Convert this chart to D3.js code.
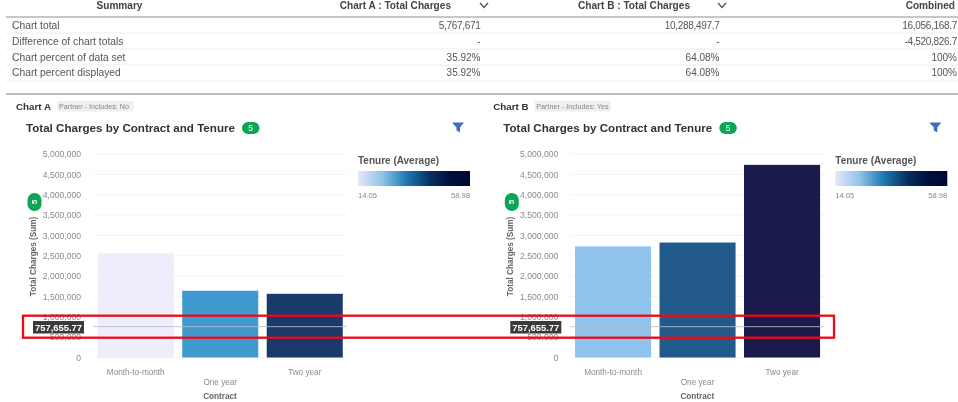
<!DOCTYPE html>
<html>
<head>
<meta charset="utf-8">
<script src="https://cdn.jsdelivr.net/npm/d3@7"></script>
<style>
  html, body { margin: 0; padding: 0; background: #fff; }
  svg { display: block; font-family: "Liberation Sans", Arial, sans-serif; filter: blur(0.35px); }
  .axis path, .axis line { display: none; }
  .axis text { fill: #8a8a8a; font-size: 8.6px; font-family: "Liberation Sans", Arial, sans-serif; }
</style>
</head>
<body>
<div id="chart"></div>
<script>
const contracts = ["Month-to-month", "One year", "Two year"];
const chargesA = [2560000, 1640000, 1565000];
const chargesB = [2730000, 2825000, 4733000];
const tenureA = [14.05, 33, 51];
const tenureB = [24, 43, 58.98];
const refValue = 757655.77;
const yTicks = [0, 500000, 1000000, 1500000, 2000000, 2500000, 3000000, 3500000, 4000000, 4500000, 5000000];

const summaryHeaders = ["Summary", "Chart A : Total Charges", "Chart B : Total Charges", "Combined"];
const summaryLabels = ["Chart total", "Difference of chart totals", "Chart percent of data set", "Chart percent displayed"];
const summaryA = ["5,767,671", "-", "35.92%", "35.92%"];
const summaryB = ["10,288,497.7", "-", "64.08%", "64.08%"];
const summaryC = ["16,056,168.7", "-4,520,826.7", "100%", "100%"];

const tenureStops = [14.05, 24, 33, 43, 51, 58.98];
const tenureColors = ["#eeedfc", "#90c4ee", "#3f9bcf", "#235a8c", "#1a3a6b", "#1a1a4c"];
const legendColors = ["#e6e6f8", "#8fc3e8", "#1f7db5", "#06305f", "#010f3d", "#000833"];

const width = 958, height = 402;
const svg = d3.select("#chart").append("svg").attr("width", width).attr("height", height);

const color = d3.scaleLinear().domain(tenureStops).range(tenureColors);
const y = d3.scaleLinear().domain([0, 5000000]).range([357.5, 154]);
const fmt = d3.format(",");

// gradient for the tenure legend
const grad = svg.append("defs").append("linearGradient").attr("id", "tenureGrad");
tenureStops.forEach((s, i) => {
  grad.append("stop")
    .attr("offset", (s - 14.05) / (58.98 - 14.05))
    .attr("stop-color", legendColors[i]);
});

// summary table
const rowY = [26, 41.7, 57.5, 73];
const sepY = [33, 49, 65, 81];
const head = svg.append("g").attr("font-weight", "bold").attr("font-size", 10.1).attr("fill", "#444");
head.append("text").attr("x", 119.5).attr("y", 9).attr("text-anchor", "middle").text(summaryHeaders[0]);
head.append("text").attr("x", 451).attr("y", 9).attr("text-anchor", "end").text(summaryHeaders[1]);
head.append("text").attr("x", 690).attr("y", 9).attr("text-anchor", "end").text(summaryHeaders[2]);
head.append("text").attr("x", 955).attr("y", 9).attr("text-anchor", "end").text(summaryHeaders[3]);

[484, 722].forEach(cx => {
  svg.append("path")
    .attr("d", `M${cx - 4},3 L${cx},7.5 L${cx + 4},3`)
    .attr("fill", "none").attr("stroke", "#555").attr("stroke-width", 1.3);
});

svg.append("line").attr("x1", 6).attr("x2", 958).attr("y1", 17).attr("y2", 17)
  .attr("stroke", "#8f8f8f").attr("stroke-width", 1);
svg.selectAll(".sep").data(sepY).enter().append("line").attr("class", "sep")
  .attr("x1", 6).attr("x2", 958).attr("y1", d => d).attr("y2", d => d)
  .attr("stroke", "#eeeeee");
svg.append("line").attr("x1", 6).attr("x2", 958).attr("y1", 94).attr("y2", 94)
  .attr("stroke", "#808080").attr("stroke-width", 1);

function tableCol(vals, x, anchor, size) {
  svg.append("g").selectAll("text").data(vals).enter().append("text")
    .attr("x", x).attr("y", (d, i) => rowY[i] + 3.3)
    .attr("text-anchor", anchor)
    .attr("font-size", size)
    .attr("letter-spacing", d => d.includes(",") ? -0.3 : 0)
    .attr("fill", "#555")
    .text(d => d);
}
tableCol(summaryLabels, 12, "start", 10.3);
tableCol(summaryA, 480.5, "end", 10);
tableCol(summaryB, 719.5, "end", 10);
tableCol(summaryC, 957, "end", 10);

function panel(off, name, pill, charges, tenure) {
  const g = svg.append("g").attr("transform", `translate(${off},0)`);

  // header row
  g.append("text").attr("x", 16).attr("y", 109.5).attr("font-weight", "bold").attr("font-size", 9.8)
    .attr("fill", "#333").text(name);
  g.append("rect").attr("x", 57.5).attr("y", 101).attr("width", 76).attr("height", 10.5).attr("fill", "#efefef");
  g.append("text").attr("x", 59).attr("y", 108.9).attr("font-size", 7.2).attr("fill", "#888").text(pill);

  g.append("text").attr("x", 26).attr("y", 132).attr("font-weight", "bold").attr("font-size", 11.6)
    .attr("fill", "#333").text("Total Charges by Contract and Tenure");
  g.append("rect").attr("x", 242).attr("y", 122).attr("width", 17.5).attr("height", 12).attr("rx", 6)
    .attr("fill", "#0aa555");
  g.append("text").attr("x", 250.7).attr("y", 131.2).attr("text-anchor", "middle").attr("font-size", 8.5)
    .attr("fill", "#fff").text("5");
  g.append("path").attr("d", "M452,122.5 H464 L460,127.5 V132.5 L456.5,130.5 V127.5 Z").attr("fill", "#3b6fc4");

  const x = d3.scaleBand().domain(contracts).range([93.5, 347]).paddingInner(0.1).paddingOuter(0.05);

  // grid
  g.append("g").selectAll("line").data(yTicks).enter().append("line")
    .attr("x1", 93).attr("x2", 347)
    .attr("y1", d => y(d)).attr("y2", d => y(d))
    .attr("stroke", "#f3f3f3");

  // bars
  const rows = contracts.map((c, i) => ({ c, v: charges[i], t: tenure[i] }));
  g.append("g").selectAll("rect").data(rows).enter().append("rect")
    .attr("x", d => x(d.c))
    .attr("y", d => y(d.v))
    .attr("width", x.bandwidth())
    .attr("height", d => y(0) - y(d.v))
    .attr("fill", d => color(d.t));

  // axes
  g.append("g").attr("class", "axis").attr("transform", "translate(85,0)")
    .call(d3.axisLeft(y).tickValues(yTicks).tickFormat(fmt).tickSize(0).tickPadding(4));

  const xAxis = g.append("g").attr("class", "axis").attr("transform", "translate(0,357.5)")
    .call(d3.axisBottom(x).tickSize(0).tickPadding(0));
  xAxis.selectAll("text").attr("font-size", 8.2).style("font-size", "8.2px")
    .attr("dy", 0)
    .attr("y", (d, i) => i === 1 ? 27 : 17.5);

  g.append("text").attr("x", 220).attr("y", 399).attr("text-anchor", "middle")
    .attr("font-weight", "bold").attr("font-size", 8.2).attr("fill", "#666").text("Contract");
  g.append("text").attr("transform", "translate(36,256.5) rotate(-90)").attr("text-anchor", "middle")
    .attr("font-weight", "bold").attr("font-size", 8.2).attr("fill", "#666").text("Total Charges (Sum)");

  // rotated badge on the y axis
  g.append("rect").attr("x", 27.5).attr("y", 193).attr("width", 14).attr("height", 18).attr("rx", 7)
    .attr("fill", "#0aa555");
  g.append("text").attr("transform", "translate(37,202) rotate(-90)").attr("text-anchor", "middle")
    .attr("font-size", 7.5).attr("font-weight", "bold").attr("fill", "#fff").text("5");

  // reference line
  g.append("line").attr("x1", 93).attr("x2", 347)
    .attr("y1", y(refValue)).attr("y2", y(refValue))
    .attr("stroke", "#b9bcc4").attr("stroke-width", 1).attr("stroke-opacity", 0.85);
  g.append("rect").attr("x", 33).attr("y", 321).attr("width", 51).attr("height", 12.5).attr("fill", "#3a3a3a");
  g.append("text").attr("x", 58.5).attr("y", 330.7).attr("text-anchor", "middle")
    .attr("font-weight", "bold").attr("font-size", 9.4).attr("fill", "#fff").text(fmt(refValue));

  // legend
  g.append("text").attr("x", 358).attr("y", 164).attr("font-weight", "bold").attr("font-size", 10)
    .attr("fill", "#555").text("Tenure (Average)");
  g.append("rect").attr("x", 358).attr("y", 171).attr("width", 112).attr("height", 15)
    .attr("fill", "url(#tenureGrad)");
  g.append("text").attr("x", 358).attr("y", 198).attr("font-size", 7.6).attr("fill", "#888")
    .text(tenureStops[0]);
  g.append("text").attr("x", 470).attr("y", 198).attr("text-anchor", "end").attr("font-size", 7.6).attr("fill", "#888")
    .text(tenureStops[tenureStops.length - 1]);
}

panel(0, "Chart A", "Partner - Includes: No", chargesA, tenureA);
panel(477.3, "Chart B", "Partner - Includes: Yes", chargesB, tenureB);

// red highlight box across both charts
svg.append("rect").attr("x", 23).attr("y", 315.7).attr("width", 811).attr("height", 22)
  .attr("fill", "none").attr("stroke", "#ee0a14").attr("stroke-width", 2.3);
</script>
</body>
</html>
